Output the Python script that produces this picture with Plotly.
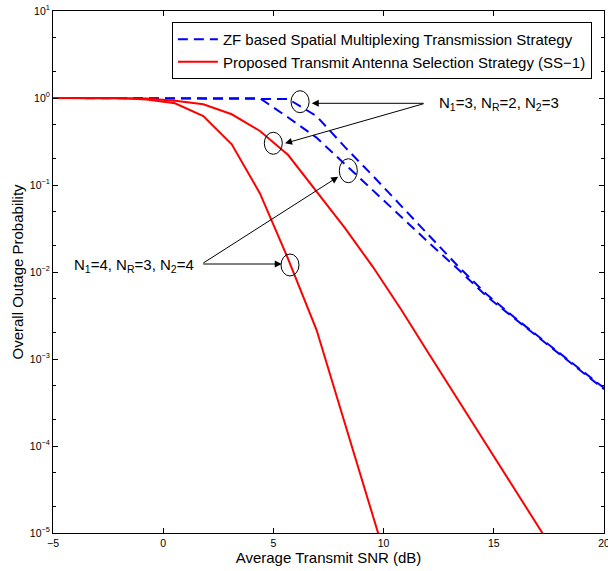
import plotly.graph_objects as go

# ---------------- data ----------------
zf_a_x = [-5, 4.39, 5.67, 6.95, 8.24, 9.52, 10.81, 12.09, 13.37, 14.66, 15.94, 17.23, 18.51, 19.80, 20.0]
zf_a_y = [1.0, 0.993, 0.597, 0.351, 0.174, 0.0863, 0.0428, 0.0213, 0.0108, 5.3e-3, 2.92e-3, 1.61e-3, 8.87e-4, 4.9e-4, 4.5e-4]

zf_b_x = [-5, 5.67, 6.95, 8.24, 9.52, 10.81, 12.09, 13.37, 14.66, 15.94, 17.23, 18.51, 19.80, 20.0]
zf_b_y = [1.0, 0.974, 0.621, 0.274, 0.127, 0.0574, 0.0259, 0.0117, 5.58e-3, 3.0e-3, 1.65e-3, 9.1e-4, 5.0e-4, 4.65e-4]

tas_a_x = [-5, -2.04, -0.75, 0.535, 1.82, 3.11, 4.39, 5.67, 6.95, 8.24, 9.52, 10.81, 12.09, 13.37, 14.66, 15.94, 17.23]
tas_a_y = [1.0, 0.999, 0.99, 0.93, 0.847, 0.65, 0.418, 0.221, 0.0853, 0.0321, 0.0114, 3.66e-3, 1.11e-3, 3.38e-4, 1.03e-4, 3.21e-5, 9.75e-6]

tas_b_x = [-5, -2.04, -0.75, 0.535, 1.82, 3.11, 4.39, 5.67, 6.96, 8.24, 9.52, 10.81]
tas_b_y = [1.0, 0.997, 0.96, 0.87, 0.62, 0.294, 0.080, 0.0141, 2.15e-3, 1.8e-4, 1.53e-5, 1.3e-6]

x_ticks = [-5, 0, 5, 10, 15, 20]
y_ticks = [1e-5, 1e-4, 1e-3, 1e-2, 1e-1, 1e0, 1e1]
y_ticktext = ["10<sup>\u22125</sup>", "10<sup>\u22124</sup>", "10<sup>\u22123</sup>", "10<sup>\u22122</sup>",
              "10<sup>\u22121</sup>", "10<sup>0</sup>", "10<sup>1</sup>"]

FONT = "Liberation Sans, Arial, Helvetica, sans-serif"
BLUE = "#0000ff"
RED = "#ff0000"

fig = go.Figure()
fig.add_trace(go.Scatter(x=zf_a_x, y=zf_a_y, mode="lines",
                         line=dict(color=BLUE, width=2, dash="10px,6px"),
                         name="ZF based Spatial Multiplexing Transmission Strategy"))
fig.add_trace(go.Scatter(x=zf_b_x, y=zf_b_y, mode="lines",
                         line=dict(color=BLUE, width=2, dash="10px,6px"),
                         showlegend=False))
fig.add_trace(go.Scatter(x=tas_a_x, y=tas_a_y, mode="lines",
                         line=dict(color=RED, width=2),
                         name="Proposed Transmit Antenna Selection Strategy (SS\u22121)"))
fig.add_trace(go.Scatter(x=tas_b_x, y=tas_b_y, mode="lines",
                         line=dict(color=RED, width=2),
                         showlegend=False))

# ---------------- annotations ----------------
# arrows: (head_x, head_logy, tail_x, tail_logy)
arrows = [
    (6.74, -0.061, 11.88, -0.061),
    (5.53, -0.521, 11.88, -0.061),
    (7.94, -0.905, 1.75, -1.908),
    (5.38, -1.908, 1.75, -1.908),
]
for hx, hy, tx, ty in arrows:
    fig.add_annotation(x=hx, y=hy, ax=tx, ay=ty, xref="x", yref="y", axref="x", ayref="y",
                       text="", showarrow=True, arrowhead=2, arrowsize=1.4, arrowwidth=1,
                       arrowcolor="black", standoff=0, startstandoff=0)

fig.add_annotation(x=12.41, y=-0.06, xref="x", yref="y", xanchor="left", yanchor="middle",
                   text="N<sub>1</sub>=3, N<sub>R</sub>=2, N<sub>2</sub>=3", showarrow=False,
                   font=dict(family=FONT, size=15, color="black"))
fig.add_annotation(x=-4.15, y=-1.93, xref="x", yref="y", xanchor="left", yanchor="middle",
                   text="N<sub>1</sub>=4, N<sub>R</sub>=3, N<sub>2</sub>=4", showarrow=False,
                   font=dict(family=FONT, size=15, color="black"))

# ellipses (x0, x1, y0, y1) in data units
ellipses = [
    (5.80, 6.62, 0.678, 1.213),
    (4.587, 5.404, 0.2254, 0.404),
    (7.99, 8.807, 0.1062, 0.2004),
    (5.345, 6.162, 0.0090, 0.0161),
]
for x0, x1, y0, y1 in ellipses:
    fig.add_shape(type="circle", xref="x", yref="y", x0=x0, x1=x1, y0=y0, y1=y1,
                  line=dict(color="black", width=1))

axis_common = dict(showline=True, linecolor="black", linewidth=1, mirror="ticks",
                   ticks="inside", tickcolor="black", ticklen=5, showgrid=False,
                   zeroline=False, automargin=False,
                   tickfont=dict(family=FONT, size=10.5, color="black"))

fig.update_xaxes(range=[-5, 20], tickvals=x_ticks, ticklabeloverflow="allow", **axis_common,
                 title=dict(text="Average Transmit SNR (dB)",
                            font=dict(family=FONT, size=15, color="black"), standoff=2))
fig.update_yaxes(type="log", range=[-5, 1], tickvals=y_ticks, ticktext=y_ticktext,
                 minor=dict(ticks="inside", ticklen=3, tickcolor="black", showgrid=False),
                 **axis_common,
                 title=dict(text="Overall Outage Probability",
                            font=dict(family=FONT, size=15, color="black"), standoff=2))

fig.update_layout(
    width=608, height=571,
    margin=dict(l=53, r=4, t=11, b=38, autoexpand=False),
    paper_bgcolor="white", plot_bgcolor="white",
    font=dict(family=FONT, color="black"),
    legend=dict(x=0.978, y=0.979, xanchor="right", yanchor="top",
                bgcolor="white", bordercolor="black", borderwidth=1,
                font=dict(family=FONT, size=15, color="black"),
                tracegroupgap=0, itemwidth=40),
)

fig.write_html("out.html")
